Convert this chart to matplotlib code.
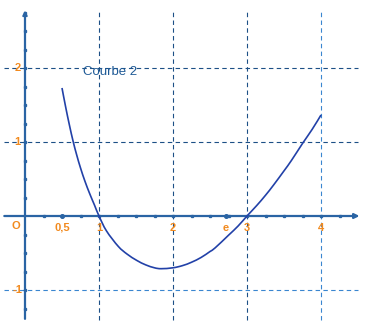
import numpy as np
import matplotlib
matplotlib.use("Agg")
import matplotlib.pyplot as plt
from matplotlib.path import Path
from matplotlib.patches import PathPatch

# Courbe 2, points
x_pts = [0.5, 0.55, 0.6, 0.65, 0.7, 0.75, 0.81, 0.875, 0.94, 1.0, 1.1, 1.26, 1.38,
         1.51, 1.63, 1.75, 1.84, 2.0, 2.13, 2.25, 2.38, 2.5, 2.57, 2.75, 2.88, 3.0,
         3.13, 3.25, 3.36, 3.5, 3.6, 3.75, 3.88, 4.0]
y_pts = [1.73, 1.47, 1.23, 1.01, 0.82, 0.65, 0.47, 0.30, 0.145, 0.0, -0.2, -0.41, -0.515,
         -0.60, -0.66, -0.70, -0.712, -0.70, -0.67, -0.625, -0.56, -0.48, -0.43, -0.26,
         -0.135, 0.0, 0.14, 0.28, 0.42, 0.61, 0.75, 0.98, 1.17, 1.365]

x_grid = [1, 2, 3, 4]
y_grid = [2, 1, -1]
x_labels = [(0.5, "0,5"), (1, "1"), (2, "2"), (np.e, "e"), (3, "3"), (4, "4")]
y_labels = [(2, "2"), (1, "1"), (-1, "-1")]
curve_name = "Courbe 2"

px = 74.0  # pixels per unit
fig = plt.figure(figsize=(3.72, 3.35), dpi=100)
ax = fig.add_axes([0, 0, 1, 1])
ax.set_xlim(-25 / px, (372 - 25) / px)
ax.set_ylim((216 - 335) / px, 216 / px)
ax.axis("off")

dark = "#1c4f86"
light = "#3a86d0"
orange = "#f28a1e"
axis_c = "#2a64a4"

# grid
for g in x_grid:
    c = light if g == 4 else dark
    ax.plot([g, g], [-1.4, 2.77], color=c, lw=0.8, ls=(0, (4, 3)), zorder=1)
for g in y_grid:
    c = light if g == -1 else dark
    ax.plot([-0.28, 4.5], [g, g], color=c, lw=0.8, ls=(0, (4, 3)), zorder=1)

# axes with arrows
ax.annotate("", xy=(4.52, 0), xytext=(-0.28, 0),
            arrowprops=dict(arrowstyle="-|>", color=axis_c, lw=1.6,
                            mutation_scale=7, shrinkA=0, shrinkB=0), zorder=2)
ax.annotate("", xy=(0, 2.78), xytext=(0, -1.39),
            arrowprops=dict(arrowstyle="->", color=axis_c, lw=1.6,
                            mutation_scale=6, shrinkA=0, shrinkB=0), zorder=2)

# small ticks every 0.25
ticks_x = np.arange(0.25, 4.5, 0.25)
ax.plot(ticks_x, np.zeros_like(ticks_x), ls="none", marker="s", ms=1.4, color=axis_c, zorder=2)
ticks_y = np.array([t for t in np.arange(-1.25, 2.76, 0.25) if abs(t) > 1e-9])
ax.plot(np.zeros_like(ticks_y), ticks_y, ls="none", marker="s", ms=1.4, color=axis_c, zorder=2)
ax.plot([np.e, 0.5], [0, 0], ls="none", marker="o", ms=2.6, color=axis_c, zorder=3)

# curve: smooth Catmull-Rom path through the read points
P = np.column_stack([x_pts, y_pts])
verts = [P[0]]
codes = [Path.MOVETO]
for i in range(len(P) - 1):
    p0 = P[i - 1] if i > 0 else P[i]
    p1, p2 = P[i], P[i + 1]
    p3 = P[i + 2] if i + 2 < len(P) else P[i + 1]
    verts += [p1 + (p2 - p0) / 6, p2 - (p3 - p1) / 6, p2]
    codes += [Path.CURVE4] * 3
ax.add_patch(PathPatch(Path(verts, codes), fill=False, edgecolor="#2241a8", lw=1.2, zorder=4))

# labels
lab = dict(color=orange, fontsize=8, fontweight="bold", family="Liberation Sans",
           ha="center", va="center", zorder=5)
ax.text(-0.12, -0.13, "O", **lab)
for v, s in x_labels:
    ax.text(v, -0.16, s, **lab)
for v, s in y_labels:
    ax.text(-0.1, v, s, **lab)

ax.text(1.15, 1.95, curve_name, color="#1f5a96", fontsize=9.5,
        family="Liberation Sans", ha="center", va="center", zorder=5)

fig.savefig("out.png", dpi=100)
